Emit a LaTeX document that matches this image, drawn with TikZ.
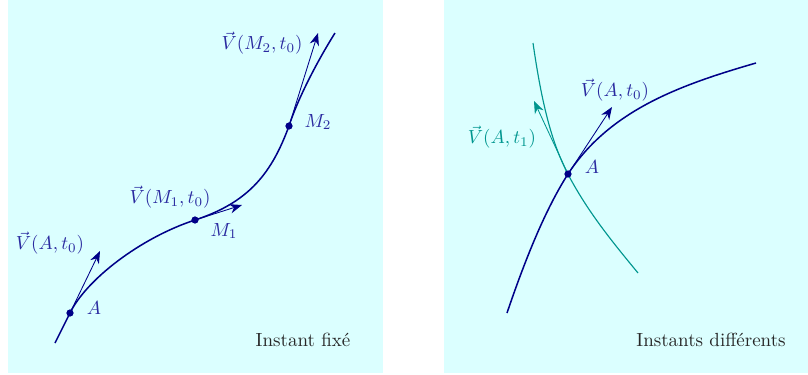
\documentclass[tikz,border=0pt]{standalone}
\usepackage{amsmath,amssymb}
\usepackage{xcolor}
\usepackage{tikz}
\usetikzlibrary{arrows.meta}
\definecolor{bgCyan}{HTML}{DBFFFF}
\definecolor{cNavy}{HTML}{000088}
\definecolor{cLabel}{HTML}{2A2AA0}
\definecolor{cTeal}{HTML}{00968F}
\tikzset{
  panel/.style={fill=bgCyan, draw=none},
  traj/.style={cNavy, line width=0.8pt},
  trajtwo/.style={cTeal, line width=0.6pt},
  vit/.style={cNavy, line width=0.45pt, -{Stealth[length=6.5pt, width=5pt]}},
  vittwo/.style={cTeal, line width=0.45pt, -{Stealth[length=6.5pt, width=5pt]}},
  pt/.style={circle, fill=cNavy, inner sep=0pt, minimum size=3.8pt},
  lbl/.style={text=cLabel, inner sep=1pt},
  lbltwo/.style={text=cTeal, inner sep=1pt},
  caption/.style={text=black!85, inner sep=1pt},
}

\begin{document}
\begin{tikzpicture}[x=0.0185cm, y=-0.0185cm]
        \useasboundingbox (0,0) rectangle (808,374);
        % fond des deux cadres
        \fill[panel] (8,0) rectangle (383,373);
        \fill[panel] (444,0) rectangle (808,373);
        % instant fixe
        \coordinate (s0) at (55,343);
        \coordinate (A) at (70,313);
        \coordinate (M1) at (195,220);
        \coordinate (M2) at (289,126);
        \coordinate (s1) at (335,33);
        \coordinate (vA) at (100,251);
        \coordinate (vM1) at (242,205);
        \coordinate (vM2) at (318,33);
        \draw[traj] (s0) -- (A) .. controls (86,280) and (140,238) .. (M1)
          .. controls (250,202) and (272,172) .. (M2)
          .. controls (298,98) and (318,60) .. (s1);
        \draw[vit] (A) -- (vA);
        \draw[vit] (M1) -- (vM1);
        \draw[vit] (M2) -- (vM2);
        \node[pt] (pA) at (A) {};
        \node[pt] (pM1) at (M1) {};
        \node[pt] (pM2) at (M2) {};
        \node[lbl] (lA) at (94,308) {$A$};
        \node[lbl] (lM1) at (224,231) {$M_1$};
        \node[lbl] (lM2) at (318,122) {$M_2$};
        \node[lbl] (lvA) at (50,243) {$\vec{V}(A,t_0)$};
        \node[lbl] (lvM1) at (170,197) {$\vec{V}(M_1,t_0)$};
        \node[lbl] (lvM2) at (262,43) {$\vec{V}(M_2,t_0)$};
        \node[caption] (capL) at (303,340) {Instant fixé};
        % instants differents
        \coordinate (r0) at (507,313);
        \coordinate (B) at (568,174);
        \coordinate (r1) at (756,63);
        \coordinate (q0) at (533,43);
        \coordinate (q1) at (638,273);
        \coordinate (vB) at (612,107);
        \coordinate (vBt) at (534,101);
        \draw[trajtwo] (q0) .. controls (542,105) and (552,145) .. (570,178)
          .. controls (590,215) and (615,245) .. (q1);
        \draw[traj] (r0) .. controls (525,260) and (545,210) .. (B)
          .. controls (610,110) and (680,85) .. (r1);
        \draw[vit] (B) -- (vB);
        \draw[vittwo] (B) -- (vBt);
        \node[pt] (pB) at (B) {};
        \node[lbl] (lB) at (592,167) {$A$};
        \node[lbl] (lvB) at (615,90) {$\vec{V}(A,t_0)$};
        \node[lbltwo] (lvBt) at (502,137) {$\vec{V}(A,t_1)$};
        \node[caption] (capR) at (711,340) {Instants différents};
      \end{tikzpicture}
\end{document}
